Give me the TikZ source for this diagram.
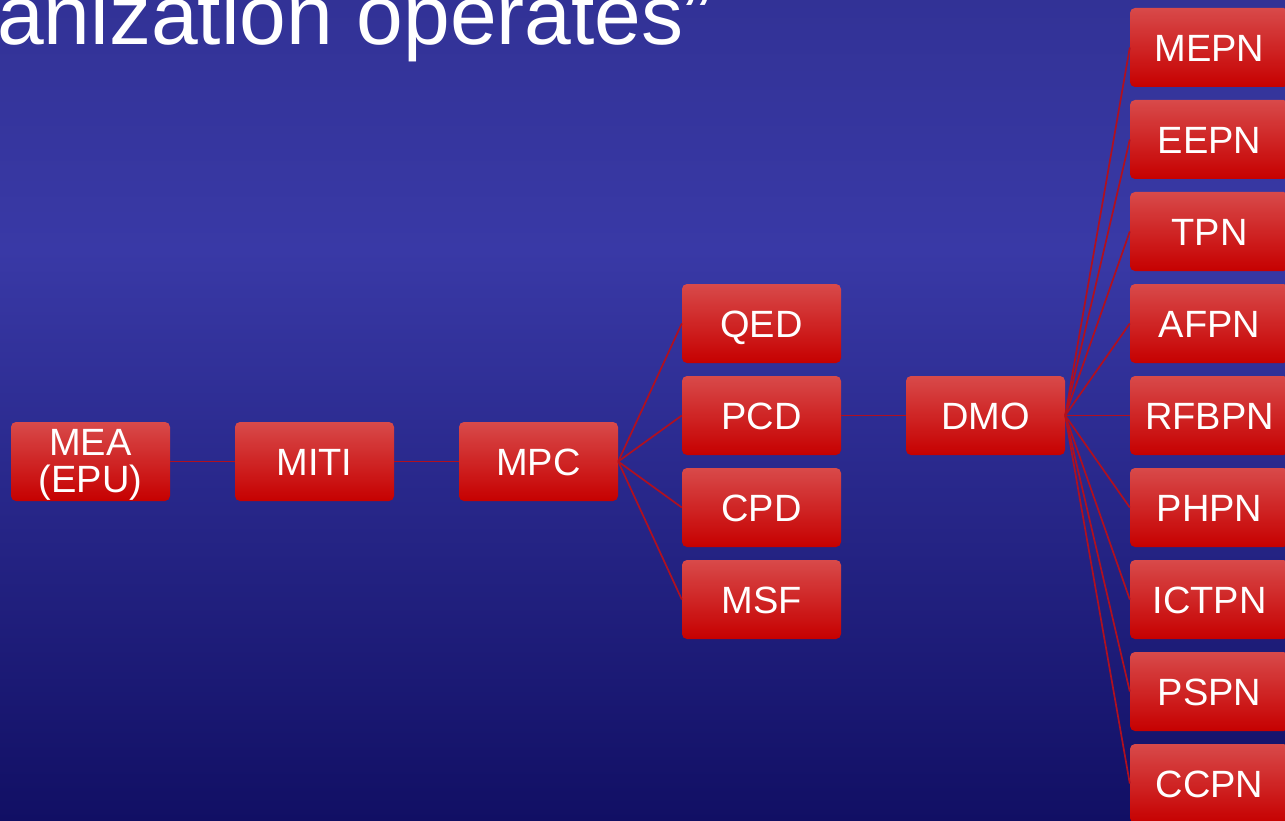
\documentclass[tikz,border=0pt]{standalone}
\usepackage{fontspec}
\setmainfont{Liberation Sans}
\definecolor{boxtop}{RGB}{216,74,74}
\definecolor{boxmid}{RGB}{210,4,4}
\definecolor{boxbot}{RGB}{198,0,0}
\definecolor{linkred}{RGB}{176,16,32}
\definecolor{bgtop}{RGB}{50,50,150}
\definecolor{bgmid}{RGB}{57,57,166}
\definecolor{bgbot}{RGB}{17,15,100}
\begin{document}
\begin{tikzpicture}[x=1pt,y=-1pt,
  box/.style={rectangle, rounded corners=5pt, minimum width=159pt, minimum height=79pt,
    inner sep=0pt, top color=boxtop, middle color=boxmid, bottom color=boxbot,
    text=white, font=\fontsize{38}{37}\selectfont, text height=27.2pt, text depth=0pt},
  link/.style={draw=linkred, line width=1.7pt}]
\useasboundingbox (0,0) rectangle (1285,821);
\clip (0,0) rectangle (1285,821);
\shade[top color=bgtop, bottom color=bgmid] (0,0) rectangle (1285,250.5);
\shade[top color=bgmid, bottom color=bgbot] (0,250) rectangle (1285,821);
\node[anchor=base west, inner sep=0pt, text=white, font=\fontsize{84}{84}\selectfont] (title) at (-3,45) {anization operates”};
% first level
\node[box, align=center, text height=64.2pt, text depth=3.2pt] (mea) at (90.5,461.5) {MEA\\(EPU)};
\node[box] (miti) at (314.5,461.5) {MITI};
\node[box] (mpc) at (538.5,461.5) {MPC};
% second level
\node[box] (qed) at (761.5,323.5) {QED};
\node[box] (pcd) at (761.5,415.5) {PCD};
\node[box] (cpd) at (761.5,507.5) {CPD};
\node[box] (msf) at (761.5,599.5) {MSF};
\node[box] (dmo) at (985.5,415.5) {DMO};
% third level
\node[box] (mepn) at (1209.5,47.5) {MEPN};
\node[box] (eepn) at (1209.5,139.5) {EEPN};
\node[box] (tpn) at (1209.5,231.5) {TPN};
\node[box] (afpn) at (1209.5,323.5) {AFPN};
\node[box] (rfbpn) at (1209.5,415.5) {RFBPN};
\node[box] (phpn) at (1209.5,507.5) {PHPN};
\node[box] (ictpn) at (1209.5,599.5) {ICTPN};
\node[box] (pspn) at (1209.5,691.5) {PSPN};
\node[box] (ccpn) at (1209.5,783.5) {CCPN};
% connectors
\draw[link] (mea.east) -- (miti.west);
\draw[link] (miti.east) -- (mpc.west);
\foreach \n in {qed,pcd,cpd,msf} \draw[link] (mpc.east) -- (\n.west);
\draw[link] (pcd.east) -- (dmo.west);
\foreach \n in {mepn,eepn,tpn,afpn,rfbpn,phpn,ictpn,pspn,ccpn} \draw[link] (dmo.east) -- (\n.west);
\end{tikzpicture}
\end{document}
